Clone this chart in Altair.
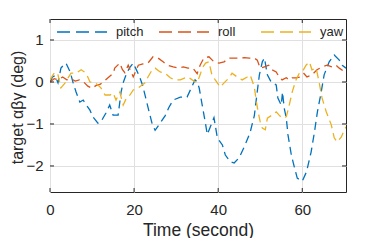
import altair as alt
import pandas as pd

# ---- data ----
pitch_t = [0, 0.6, 1.2, 1.9, 2.6, 3.2, 3.8, 4.8, 5.5, 6.2, 7.1, 7.9, 8.3, 9.5, 10.2, 11.4, 12.1,
           13.3, 14.2, 15, 16.2, 16.6, 16.9, 17.4, 18.2, 19, 19.8, 20.5, 21.2, 22, 23.3, 24.3, 25,
           26.2, 27.4, 28.3, 29.3, 31, 32.6, 33.8, 34.5, 35, 35.5, 36.2, 37, 37.4, 38, 39, 39.8,
           41, 41.7, 42.9, 43.8, 45, 46.4, 47.6, 48.6, 49.2, 49.8, 50.5, 51, 51.7, 52.6, 53.8,
           54.2, 55, 55.3, 55.7, 56.2, 56.6, 57.4, 58.1, 58.8, 60, 61, 62.1, 62.9, 63.6, 64.5,
           65.2, 66.4, 67.6, 68.8, 69.5, 70.4]
pitch_v = [0, 0.12, 0.15, -0.02, 0.33, 0.4, 0.45, 0.24, -0.02, -0.24, -0.48, -0.43, -0.5, -0.67,
           -0.83, -0.98, -0.95, -0.74, -0.55, -0.79, -0.79, -0.48, -0.24, -0.02, 0.2, 0.35, 0.45,
           0.3, 0.15, -0.07, -0.6, -1.0, -1.15, -0.98, -0.8, -0.6, -0.43, -0.36, -0.36, -0.1,
           0.05, 0.0, -0.15, -0.55, -1.0, -1.25, -1.1, -0.85, -1.33, -1.5, -1.74, -1.9, -1.93,
           -1.8, -1.5, -1.2, -0.8, -0.3, 0.17, 0.48, 0.57, 0.17, 0.0, -0.07, -0.38, -0.55, -0.24,
           -0.62, -0.86, -1.26, -1.74, -2.02, -2.29, -2.36, -2.14, -1.67, -1.19, -0.71, -0.24,
           0.17, 0.48, 0.64, 0.52, 0.4, 0.33]

roll_t = [0, 1, 2, 3, 4, 5, 6, 7, 8, 9, 10, 11, 12, 13, 13.8, 15, 15.4, 16.6, 17.2, 17.8, 18.6,
          19.8, 21, 22.1, 23.3, 24.5, 25.7, 26.9, 28, 29.3, 30.5, 31.7, 32.8, 34, 35, 35.7, 36.6,
          37.8, 39, 40.2, 41.4, 42.6, 43.8, 45, 46.2, 47.4, 48.6, 49.3, 50, 51, 52, 52.8, 53.8,
          54.5, 55.2, 56.2, 56.9, 57.6, 58.5, 59.7, 60.4, 61.1, 62.3, 63.5, 64.7, 65.9, 67.1, 68,
          68.8, 70.4]
roll_v = [0.0, 0.08, 0.05, 0.12, 0.05, 0.08, 0.02, 0.05, 0.0, -0.1, -0.15, -0.08, -0.05, 0.03,
          0.1, 0.2, 0.33, 0.45, 0.3, 0.22, 0.4, 0.12, 0.4, 0.43, 0.45, 0.6, 0.57, 0.48, 0.4, 0.36,
          0.33, 0.36, 0.33, 0.33, 0.2, 0.4, 0.57, 0.6, 0.48, 0.45, 0.48, 0.57, 0.57, 0.57, 0.58,
          0.57, 0.57, 0.52, 0.33, 0.36, 0.4, 0.29, 0.24, 0.12, 0.05, 0.1, 0.05, 0.1, 0.1, 0.12,
          0.2, 0.12, 0.17, 0.29, 0.36, 0.4, 0.36, 0.4, 0.33, 0.22]

yaw_t = [0, 0.6, 1.2, 1.9, 2.6, 3.6, 4.3, 5, 6.2, 7.4, 8.6, 9.5, 10.7, 11.4, 12.1, 13.1, 14.3, 15,
         15.7, 16.6, 17.4, 18.3, 19, 19.8, 21, 21.9, 22.6, 23.3, 24.3, 25, 26.2, 27.4, 28.6, 29.8,
         31, 32.1, 32.9, 33.8, 35, 35.7, 36.2, 37, 37.8, 38.5, 39.3, 40.5, 41.4, 42.6, 43.3, 44.5,
         45.7, 46.9, 47.6, 48.6, 49.1, 49.5, 50, 50.5, 51.2, 51.7, 52.8, 53.8, 54.5, 55.2, 56.2,
         56.9, 57.6, 58.5, 59.3, 60, 60.9, 61.7, 62.3, 63.3, 64, 64.7, 65.7, 66.9, 67.6, 68.3,
         69.3, 70, 70.4]
yaw_v = [0.05, 0.15, 0.24, 0.17, -0.14, -0.02, 0.1, 0.21, 0.21, 0.29, 0.21, 0.0, -0.02, -0.07,
         -0.14, -0.31, -0.31, -0.26, -0.43, -0.24, -0.55, -0.36, -0.31, -0.19, -0.14, -0.07,
         -0.02, 0.12, 0.29, 0.33, 0.24, 0.21, 0.1, 0.05, 0.05, 0.1, 0.12, 0.05, -0.02, 0.17,
         0.33, 0.45, 0.48, 0.17, 0.05, -0.12, -0.02, 0.1, 0.21, 0.12, 0.05, 0.12, 0.17, -0.12,
         -0.48, -0.71, -0.95, -1.1, -1.14, -0.86, -0.79, -0.71, -0.79, -0.86, -0.83, -0.55,
         -0.24, 0.05, 0.21, 0.24, 0.4, 0.48, 0.29, 0.33, 0.0, -0.38, -0.71, -1.02, -1.33, -1.43,
         -1.31, -1.14, -1.07]

series_names = ["pitch", "roll", "yaw"]
series_colors = ["#0072BD", "#D95319", "#EDB120"]
x_ticks = [0, 20, 40, 60]
y_ticks = [-2, -1, 0, 1]
x_domain = [0, 70.4]
y_domain = [-2.62, 1.5]

rows = []
for name, ts, vs in zip(series_names, [pitch_t, roll_t, yaw_t], [pitch_v, roll_v, yaw_v]):
    for i, (t, v) in enumerate(zip(ts, vs)):
        rows.append({"t": t, "v": v, "series": name, "order": i})
df = pd.DataFrame(rows)

W, H = 296, 173
TICK = 4
FONT = "Liberation Sans"
TXT = "#262626"

xscale = alt.Scale(domain=x_domain, nice=False, zero=False)
yscale = alt.Scale(domain=y_domain, nice=False, zero=False)

lines = alt.Chart(df).mark_line(strokeWidth=1.3, strokeDash=[8, 5], clip=True).encode(
    x=alt.X("t:Q", scale=xscale,
            axis=alt.Axis(values=x_ticks, title="Time (second)", grid=True, gridColor="#e0e0e0",
                          domain=False, ticks=False, labelPadding=10, labelFontSize=15,
                          labelFlush=False, labelColor=TXT, titleFontSize=17.5, titleColor=TXT,
                          titleFontWeight="normal", titleBaseline="alphabetic", titleY=43)),
    y=alt.Y("v:Q", scale=yscale,
            axis=alt.Axis(values=y_ticks, title="target αβγ (deg)", grid=True, gridColor="#e0e0e0",
                          domain=False, ticks=False, labelPadding=7, labelFontSize=15,
                          labelColor=TXT, titleFontSize=16, titleColor=TXT,
                          titleFontWeight="normal", titleX=-33, titleY=88,
                          titleBaseline="middle")),
    color=alt.Color("series:N",
                    scale=alt.Scale(domain=series_names, range=series_colors),
                    legend=alt.Legend(title=None, orient="none", legendX=6, legendY=-13,
                                      direction="horizontal", columns=3, gridAlign="all",
                                      symbolType="stroke", symbolSize=2500,
                                      symbolStrokeWidth=1.3, symbolDash=[13, 6],
                                      labelFontSize=13, labelColor=TXT, labelOffset=8,
                                      columnPadding=12, padding=0)),
    detail="series:N",
    order="order:Q",
)

xt = pd.DataFrame({"t": x_ticks})
yt = pd.DataFrame({"v": y_ticks})

xt_bottom = alt.Chart(xt).mark_rule(color=TXT, strokeWidth=1).encode(
    x=alt.X("t:Q", scale=xscale), y=alt.value(H), y2=alt.value(H - TICK))
xt_top = alt.Chart(xt).mark_rule(color=TXT, strokeWidth=1).encode(
    x=alt.X("t:Q", scale=xscale), y=alt.value(0), y2=alt.value(TICK))
yt_left = alt.Chart(yt).mark_rule(color=TXT, strokeWidth=1).encode(
    y=alt.Y("v:Q", scale=yscale), x=alt.value(0), x2=alt.value(TICK))
yt_right = alt.Chart(yt).mark_rule(color=TXT, strokeWidth=1).encode(
    y=alt.Y("v:Q", scale=yscale), x=alt.value(W), x2=alt.value(W - TICK))

chart = alt.layer(lines, xt_bottom, xt_top, yt_left, yt_right).properties(
    width=W, height=H,
    autosize=alt.AutoSizeParams(type="none"),
    padding={"left": 42, "top": 11, "right": 28, "bottom": 46},
).configure(font=FONT).configure_view(stroke=TXT, strokeWidth=1)

chart.save("out.html", embed_options={"renderer": "svg", "actions": False})
